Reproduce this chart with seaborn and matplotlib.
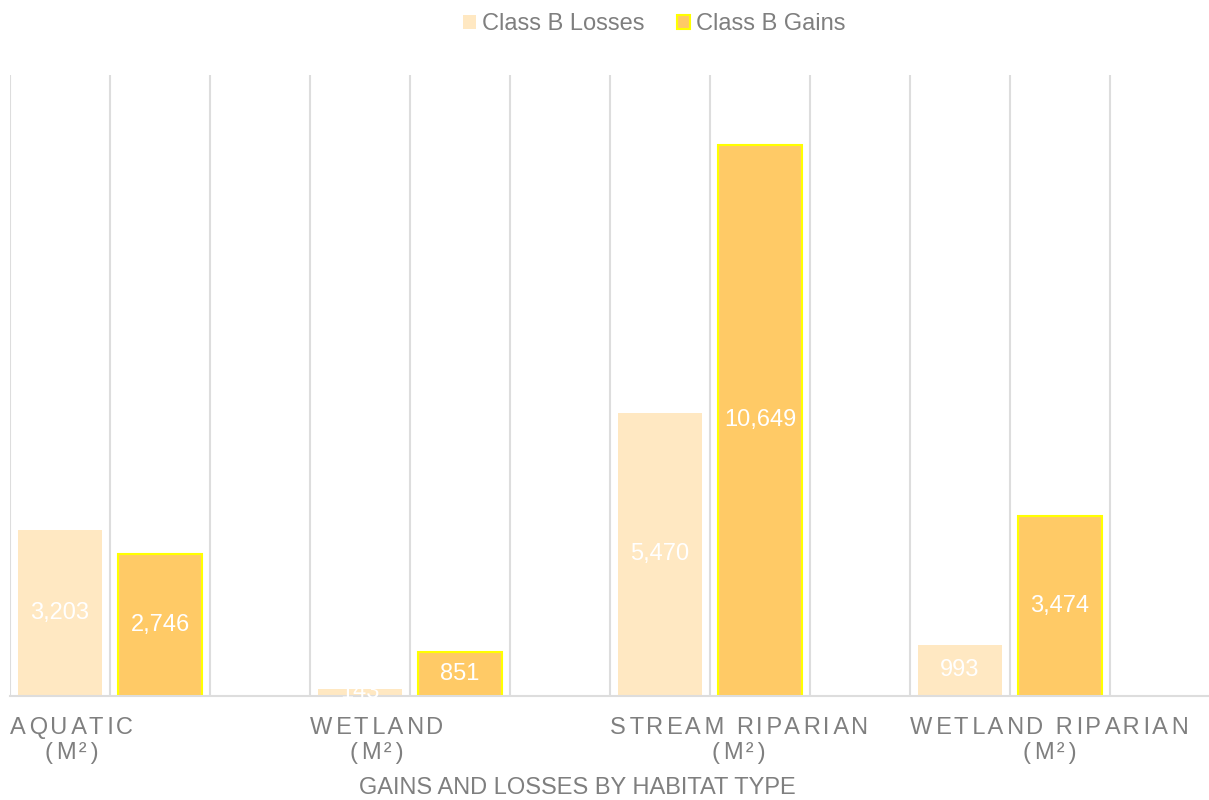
import numpy as np
import pandas as pd
import matplotlib
matplotlib.use('Agg')
import matplotlib.pyplot as plt
from matplotlib.patches import Patch
import seaborn as sns

categories = ["AQUATIC\n(M²)", "WETLAND\n(M²)", "STREAM RIPARIAN\n(M²)", "WETLAND RIPARIAN\n(M²)"]
series = ["Class B Losses", "Class B Gains"]
losses = [3203, 143, 5470, 993]
gains = [2746, 851, 10649, 3474]
title = "GAINS AND LOSSES BY HABITAT TYPE"

colors = {"Class B Losses": "#FFE8C2", "Class B Gains": "#FFCA66"}
edges = {"Class B Losses": "#FFE8C2", "Class B Gains": "#FFFF00"}
gray = "#7F7F7F"

# each category gets 3 slots (third one stays empty, like the excel source)
rows = []
for i, cat in enumerate(categories):
    rows.append({"slot": 3 * i, "value": losses[i], "series": series[0]})
    rows.append({"slot": 3 * i + 1, "value": gains[i], "series": series[1]})
df = pd.DataFrame(rows)

sns.set_style("white")
plt.rcParams['font.family'] = ['Liberation Sans', 'DejaVu Sans']

fig = plt.figure(figsize=(12.09, 8), dpi=100)
ax = fig.add_axes([10 / 1209, 104 / 800, 1200 / 1209, 621 / 800])

sns.barplot(data=df, x="slot", y="value", hue="series", hue_order=series,
            palette=colors, native_scale=True, dodge=False, width=0.84,
            saturation=1, legend=False, ax=ax)

for name, cont in zip(series, ax.containers):
    for p in cont.patches:
        p.set_edgecolor(edges[name])
        p.set_linewidth(1.5 if name == series[1] else 0)
    labs = ax.bar_label(cont, labels=[f"{v:,.0f}" for v in cont.datavalues],
                        label_type="center", color="white", fontsize=17)
    for t in labs:
        t.set_clip_on(True)

# excel-style letter spacing (hair spaces, alternating 1/2 to get ~0.13em)
def spaced(s):
    out = []
    for line in s.split("\n"):
        txt = line[0]
        for j, ch in enumerate(line[1:]):
            txt += ("\u200a" if j % 2 else "\u200a\u200a") + ch
        out.append(txt)
    return "\n".join(out)

n_slots = 3 * len(categories)
ax.set_xlim(-0.5, n_slots - 0.5)
ax.set_ylim(0, 12000)
grid_pos = np.arange(-0.5, n_slots, 1.0)
ax.set_xticks(grid_pos)
ax.set_xticklabels([spaced(categories[k // 3]) if k % 3 == 0 and k // 3 < len(categories) else ""
                    for k in range(len(grid_pos))],
                   ha="left", multialignment="center", fontsize=17, color=gray,
                   linespacing=1.2)
ax.tick_params(axis="x", length=0, pad=15)
ax.set_yticks([])
ax.grid(axis="x", color="#DDDDDD", linewidth=1.5)
ax.set_axisbelow(True)
for s in ["top", "left", "right"]:
    ax.spines[s].set_visible(False)
ax.spines["bottom"].set_color("#DDDDDD")
ax.spines["bottom"].set_linewidth(1.5)
ax.set_ylabel("")
ax.set_xlabel("")

fig.text(577 / 1209, 1 / 800, title, ha="center", va="bottom", fontsize=17, color=gray)

handles = [Patch(facecolor=colors[s], edgecolor=edges[s], linewidth=1.5 if s == series[1] else 0)
           for s in series]
fig.legend(handles, series, loc="upper center", bbox_to_anchor=(654 / 1209, 1.01),
           ncol=2, frameon=False, fontsize=17, labelcolor=gray,
           handlelength=0.55, handleheight=0.55, handletextpad=0.25, columnspacing=1.37)

fig.savefig("out.png", dpi=100)
